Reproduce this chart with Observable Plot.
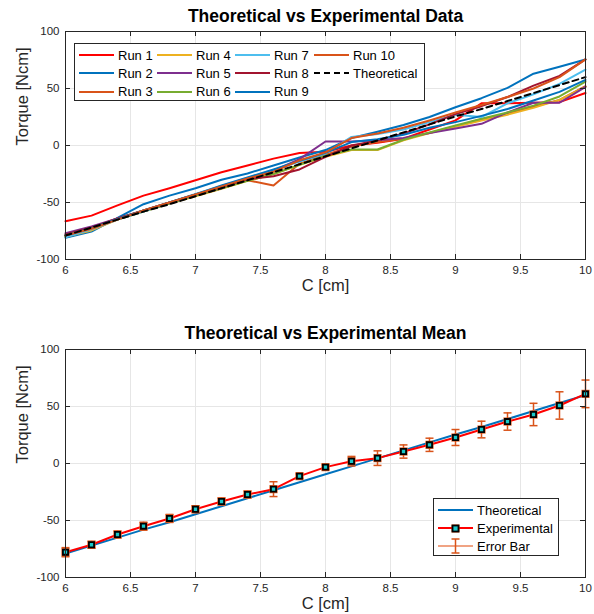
<!DOCTYPE html>
<html><head><meta charset="utf-8">
<script src="https://cdn.jsdelivr.net/npm/d3@7"></script>
<script src="https://cdn.jsdelivr.net/npm/@observablehq/plot@0.6"></script>
<style>
body{margin:0;background:#fff;font-family:"Liberation Sans",Arial,sans-serif;}
#wrap{position:relative;width:594px;height:614px;overflow:hidden;}
#wrap svg{display:block;}
.legend{position:absolute;border:1px solid #262626;background:#fff;font-size:13px;color:#000;box-sizing:border-box;}
.entry{position:absolute;height:18px;display:flex;align-items:center;white-space:nowrap;}
.entry svg{margin-right:4px;}
</style></head><body><div id="wrap"></div>
<script>
// ---------- data ----------
const C = [6, 6.2, 6.4, 6.6, 6.8, 7, 7.2, 7.4, 7.6, 7.8, 8, 8.2, 8.4, 8.6, 8.8, 9, 9.2, 9.4, 9.6, 9.8, 10];
const run1 = [-66.5, -61.5, -52.5, -44, -37.5, -30.5, -23.5, -17.5, -11.5, -6.5, -5.5, 0, 2.5, 6, 14, 22, 37, 37, 37.5, 38, 46];
const run2 = [-81, -75.5, -63.5, -51.5, -44, -37.5, -30, -24.5, -17.5, -10.5, -4, 6.5, 12, 18, 25, 33.5, 41.5, 50.5, 63, 69, 75.5];
const run3 = [-79.5, -72, -64, -57, -50, -43, -37, -30.5, -35, -16, -8, -1, 3, 6, 11, 17, 23, 28, 34, 40, 52];
const run4 = [-80, -74.5, -65, -58, -51, -44.5, -38, -31, -25, -17, -10, -4, -4, 4.5, 11, 16.5, 22, 27, 33, 40, 51.5];
const run5 = [-77, -71, -64, -57.5, -51, -44, -37.5, -30, -22, -12, 3.5, 3.5, 4.5, 6.5, 11, 15, 19, 29, 37.5, 37.5, 51.5];
const run6 = [-80, -73, -65, -58, -51, -44, -37.5, -31, -25, -17, -9, -3.5, -3.5, 5, 11.5, 17.5, 23.5, 29, 35, 43, 56];
const run7 = [-80.5, -73.5, -65, -58, -50, -42.5, -35.5, -28.5, -21.5, -14, -7, 7.5, 10, 14, 20.5, 27, 25, 37, 45, 54, 66.5];
const run8 = [-78, -72, -64, -57, -50, -43, -36.5, -29.5, -27, -21, -10, 0, 4.5, 10.5, 18.5, 27.5, 34.5, 42.5, 52.5, 61, 75.5];
const run9 = [-79, -72.5, -64.5, -57, -50, -43, -35, -28, -21, -13.5, -6.5, 3, 5.5, 9.5, 15.5, 20.5, 26, 32, 39.5, 47, 57.5];
const run10 = [-79, -73, -65, -57, -50, -43, -36, -29, -23, -13, -6, 6.5, 10.5, 15.5, 22, 29, 35.5, 42.5, 50, 60, 75.5];
const theoretical = [-79, -72, -65, -58, -51.5, -44.5, -37.5, -30.5, -23.5, -16.5, -9.5, -2.5, 4.5, 11.5, 18.5, 25.5, 32, 39, 46, 53, 60];
const expMean = [-77.8, -71.3, -62.3, -55, -48.2, -40.1, -33.3, -27.2, -22.5, -11.1, -3.2, 2.0, 4.7, 10.5, 16.4, 22.8, 29.8, 36.8, 43, 50.9, 61.1];
const expErr = [4, 3, 3, 3.5, 3.5, 3, 3, 3, 6.5, 2, 2, 4.2, 6.4, 5.8, 5.8, 7, 7.3, 7.6, 9.8, 12, 12.1];
const runNames = ["Run 1","Run 2","Run 3","Run 4","Run 5","Run 6","Run 7","Run 8","Run 9","Run 10"];
const runColors = ["#FF0000","#0072BD","#D95319","#EDB120","#7E2F8E","#77AC30","#4DBEEE","#A2142F","#0072BD","#D95319"];
const xTicks = [6, 6.5, 7, 7.5, 8, 8.5, 9, 9.5, 10];
const yTicks = [-100, -50, 0, 50, 100];
const titles = ["Theoretical vs Experimental Data", "Theoretical vs Experimental Mean"];
const xLabel = "C [cm]";
const yLabel = "Torque [Ncm]";

// ---------- helpers ----------
const runs = [run1, run2, run3, run4, run5, run6, run7, run8, run9, run10];
const rows = arr => arr.map((v, i) => ({x: C[i], y: v}));
const AX = "#262626";
const W = 594, PW = 520, PH = 228;
const fmt = d => String(d);

function axesMarks(title, labelDy, titleDy) {
  return {
    under: [
      Plot.gridX(xTicks, {stroke: "#e6e6e6", strokeOpacity: 1}),
      Plot.gridY(yTicks, {stroke: "#e6e6e6", strokeOpacity: 1})
    ],
    over: [
      Plot.frame({stroke: AX, strokeWidth: 1}),
      Plot.tickX(xTicks, {x: d => d, insetTop: PH - 5, stroke: AX}),
      Plot.tickX(xTicks, {x: d => d, insetBottom: PH - 5, stroke: AX}),
      Plot.tickY(yTicks, {y: d => d, insetRight: PW - 5, stroke: AX}),
      Plot.tickY(yTicks, {y: d => d, insetLeft: PW - 5, stroke: AX}),
      Plot.axisX(xTicks, {tickSize: 0, tickPadding: 6, tickFormat: fmt, fontSize: 11.5, fill: AX, label: null}),
      Plot.axisY(yTicks, {tickSize: 0, tickPadding: 6, tickFormat: fmt, fontSize: 11.5, fill: AX, label: null}),
      Plot.text([xLabel], {frameAnchor: "bottom", dy: labelDy, lineAnchor: "middle", fontSize: 16.5, fill: AX}),
      Plot.text([yLabel], {frameAnchor: "left", dx: -43, rotate: -90, lineAnchor: "middle", fontSize: 16.5, fill: AX}),
      Plot.text([title], {frameAnchor: "top", dy: titleDy, lineAnchor: "middle", fontSize: 17.5, fontWeight: "bold", fill: "#000"})
    ]
  };
}

const common = {
  width: W, height: 307, marginLeft: 65, marginRight: 9,
  x: {domain: [6, 10], axis: null},
  y: {domain: [-100, 100], axis: null},
  style: {fontFamily: "'Liberation Sans', Arial, sans-serif", background: "#fff", overflow: "visible"}
};

// ---------- top chart ----------
const a1 = axesMarks(titles[0], 26, -15);
const chartTop = Plot.plot({
  ...common, marginTop: 31, marginBottom: 48,
  marks: [
    ...a1.under,
    ...runs.map((r, i) => Plot.line(rows(r), {x: "x", y: "y", stroke: runColors[i], strokeWidth: 2})),
    Plot.line(rows(theoretical), {x: "x", y: "y", stroke: "#000", strokeWidth: 2, strokeDasharray: "6,4"}),
    ...a1.over
  ]
});

// ---------- bottom chart ----------
const capSymbol = {draw(ctx, size) { const w = Math.sqrt(size / Math.PI); ctx.moveTo(-w, 0); ctx.lineTo(w, 0); }};
const errRows = expMean.map((m, i) => ({x: C[i], y: m, lo: m - expErr[i], hi: m + expErr[i]}));
const a2 = axesMarks(titles[1], 26, -16);
const chartBottom = Plot.plot({
  ...common, marginTop: 42, marginBottom: 37,
  marks: [
    ...a2.under,
    Plot.line(rows(theoretical), {x: "x", y: "y", stroke: "#0072BD", strokeWidth: 2}),
    Plot.line(rows(expMean), {x: "x", y: "y", stroke: "#FF0000", strokeWidth: 2}),
    Plot.ruleX(errRows, {x: "x", y1: "lo", y2: "hi", stroke: "#D95319", strokeWidth: 1.5}),
    Plot.dot(errRows, {x: "x", y: "lo", symbol: capSymbol, r: 4, stroke: "#D95319", strokeWidth: 1.5, fill: "none"}),
    Plot.dot(errRows, {x: "x", y: "hi", symbol: capSymbol, r: 4, stroke: "#D95319", strokeWidth: 1.5, fill: "none"}),
    Plot.dot(errRows, {x: "x", y: "y", symbol: "square", r: 4.6, fill: "#D95319", stroke: "none"}),
    Plot.dot(errRows, {x: "x", y: "y", symbol: "square", r: 2.9, fill: "#19c8c8", stroke: "#000", strokeWidth: 1.8}),
    ...a2.over
  ]
});

const wrap = document.getElementById("wrap");
wrap.appendChild(chartTop);
wrap.appendChild(chartBottom);

// ---------- legends ----------
function lineSvg(color, dash, extra) {
  return `<svg width="35" height="18" viewBox="0 0 35 18"><line x1="0" y1="9" x2="35" y2="9" stroke="${color}" stroke-width="2" ${dash ? `stroke-dasharray="${dash}"` : ""}/>${extra || ""}</svg>`;
}
const leg1 = document.createElement("div");
leg1.className = "legend";
Object.assign(leg1.style, {left: "74px", top: "43px", width: "351px", height: "58px"});
const entries1 = runNames.map((n, i) => ({name: n, color: runColors[i], dash: null})).concat([{name: "Theoretical", color: "#000", dash: "6,4"}]);
const colLeft = [4, 82, 160, 239];
entries1.forEach((e, i) => {
  const col = Math.floor(i / 3), row = i % 3;
  const d = document.createElement("div");
  d.className = "entry";
  d.style.left = colLeft[col] + "px";
  d.style.top = (2 + row * 18.3) + "px";
  d.innerHTML = lineSvg(e.color, e.dash) + `<span>${e.name}</span>`;
  leg1.appendChild(d);
});
wrap.appendChild(leg1);

const leg2 = document.createElement("div");
leg2.className = "legend";
Object.assign(leg2.style, {left: "433px", top: "498px", width: "126px", height: "58px"});
const entries2 = [
  {name: "Theoretical", svg: lineSvg("#0072BD")},
  {name: "Experimental", svg: lineSvg("#FF0000", null, `<rect x="13.5" y="5.5" width="8" height="8" fill="#D95319"/><rect x="14.5" y="6.5" width="6" height="6" fill="#19c8c8" stroke="#000" stroke-width="1.8"/>`)},
  {name: "Error Bar", svg: `<svg width="35" height="18" viewBox="0 0 35 18"><line x1="0" y1="9" x2="35" y2="9" stroke="#F0A383" stroke-width="2"/><line x1="17.5" y1="2" x2="17.5" y2="16" stroke="#D95319" stroke-width="1.5"/><line x1="13.5" y1="2" x2="21.5" y2="2" stroke="#D95319" stroke-width="1.5"/><line x1="13.5" y1="16" x2="21.5" y2="16" stroke="#D95319" stroke-width="1.5"/></svg>`}
];
entries2.forEach((e, i) => {
  const d = document.createElement("div");
  d.className = "entry";
  d.style.left = "4px";
  d.style.top = (2 + i * 18) + "px";
  d.innerHTML = e.svg + `<span>${e.name}</span>`;
  leg2.appendChild(d);
});
wrap.appendChild(leg2);
</script></body></html>
